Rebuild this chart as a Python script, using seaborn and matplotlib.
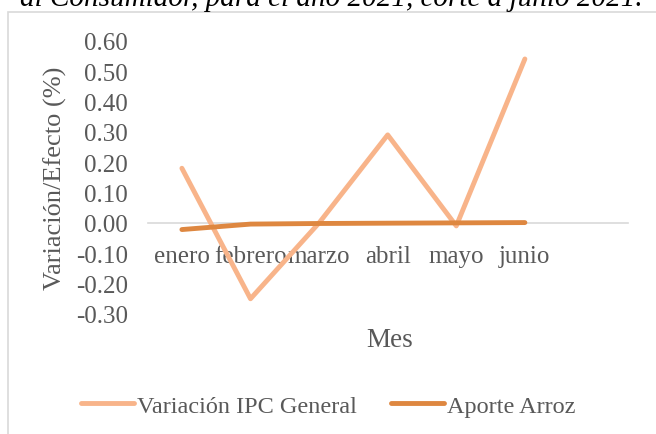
import numpy as np
import pandas as pd
import matplotlib
matplotlib.use('Agg')
import matplotlib.pyplot as plt
import seaborn as sns
from matplotlib.patches import Rectangle

meses = ['enero', 'febrero', 'marzo', 'abril', 'mayo', 'junio']
ipc_general = [0.18, -0.25, 0.00, 0.29, -0.01, 0.54]
aporte_arroz = [-0.022, -0.004, -0.002, -0.001, 0.000, 0.001]
y_ticks = [-0.30, -0.20, -0.10, 0.00, 0.10, 0.20, 0.30, 0.40, 0.50, 0.60]

sns.set_style('white')
plt.rcParams['font.family'] = ['Liberation Serif', 'DejaVu Serif']

df = pd.DataFrame({'Mes': meses, 'Variación IPC General': ipc_general,
                   'Aporte Arroz': aporte_arroz})
df['pos'] = np.arange(len(meses))
long = df.melt(id_vars=['Mes', 'pos'], var_name='Serie', value_name='Valor')

fig = plt.figure(figsize=(6.56, 4.35), dpi=100)
ax = fig.add_axes([0.225, 0.276, 0.732, 0.628])

# recuadro del grafico (cortado por la derecha y abajo)
fig.patches.append(Rectangle((8 / 656, -0.1), 1.2, 1 - 13 / 435 + 0.1,
                             transform=fig.transFigure, fill=False,
                             edgecolor='#d9d9d9', lw=1.2, zorder=0))

colores = {'Variación IPC General': '#F8B48A', 'Aporte Arroz': '#DE8740'}
sns.lineplot(data=long, x='pos', y='Valor', hue='Serie', palette=colores,
             lw=3.5, ax=ax, legend=False, solid_capstyle='round')

ax.set_xlim(-0.5, 6.5)
ax.set_ylim(-0.30, 0.60)
ax.set_yticks(y_ticks)
ax.set_yticklabels([f'{v:.2f}' for v in y_ticks])
ax.set_xticks(range(len(meses)))
ax.set_xticklabels(meses)
ax.tick_params(axis='x', length=0, pad=16, labelsize=18, labelcolor='#595959')
ax.tick_params(axis='y', length=0, pad=14, labelsize=18, labelcolor='#595959')
for s in ['left', 'right', 'top']:
    ax.spines[s].set_visible(False)
ax.spines['bottom'].set_position(('data', 0))
ax.spines['bottom'].set_color('#d9d9d9')
ax.spines['bottom'].set_linewidth(1.2)
ax.spines['bottom'].set_zorder(0)
ax.set_xlabel('')
ax.set_ylabel('Variación/Efecto (%)', fontsize=19, color='#595959')
ax.yaxis.set_label_coords((67 - 147.7) / 480.2, 0.5)

fig.text(390 / 656, 1 - 341 / 435, 'Mes', fontsize=19.5, color='#595959',
         ha='center', va='center')

fig.text(20 / 656, 1 - 6 / 435, 'al Consumidor, para el año 2021, corte a junio 2021.',
         fontsize=21, style='italic', ha='left', va='baseline', color='black')

handles = [plt.Line2D([], [], color=colores[k], lw=3.5, solid_capstyle='round')
           for k in colores]
fig.legend(handles, list(colores), loc='center', bbox_to_anchor=(0.5, 1 - 407 / 435),
           ncol=2, frameon=False, fontsize=17.5, labelcolor='#595959',
           handlelength=2.2, handletextpad=0.1, columnspacing=1.4)

fig.savefig('out.png', dpi=100)
